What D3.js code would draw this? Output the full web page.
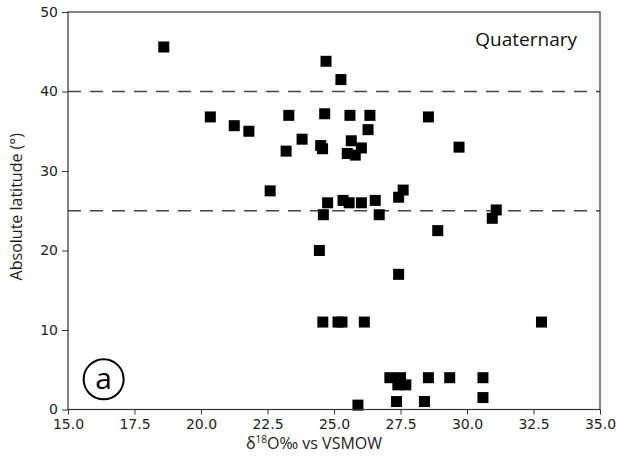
<!DOCTYPE html>
<html>
<head>
<meta charset="utf-8">
<script src="https://cdn.jsdelivr.net/npm/d3@7"></script>
<style>
  body { margin: 0; background: #fff; }
  .tick text { font-family: "DejaVu Sans", sans-serif; font-size: 14px; fill: #222; }
  .tick line { stroke: #333; }
  .domain { stroke: none; }
</style>
</head>
<body>
<div id="chart"></div>
<script>
// d18O values (per mille vs VSMOW)
const d18O = [
  18.6, 20.35, 21.25, 21.8, 22.6, 23.2, 23.3, 23.8, 24.45, 24.5,
  24.57, 24.6, 24.65, 24.7, 24.76, 24.58, 25.15, 25.3, 25.26, 25.34,
  25.57, 25.6, 25.65, 25.5, 25.8, 26.03, 26.03, 26.14, 26.28, 26.35,
  26.55, 26.7, 25.9, 27.43, 27.6, 27.43, 28.55, 29.7, 28.9, 30.95,
  31.1, 32.8, 27.1, 27.5, 27.4, 27.7, 28.55, 29.35, 30.6, 30.6,
  27.35, 28.4
];
// absolute latitude (degrees)
const latitude = [
  45.6, 36.8, 35.7, 35.0, 27.5, 32.5, 37.0, 34.0, 20.0, 33.2,
  32.8, 24.5, 37.2, 43.8, 26.0, 11.0, 11.0, 11.0, 41.5, 26.3,
  26.0, 37.0, 33.8, 32.2, 32.0, 32.9, 26.0, 11.0, 35.2, 37.0,
  26.3, 24.5, 0.55, 17.0, 27.6, 26.7, 36.8, 33.0, 22.5, 24.05,
  25.1, 11.0, 4.0, 4.0, 3.1, 3.1, 4.0, 4.0, 4.0, 1.5,
  1.0, 1.0
];
const xTicks = [15, 17.5, 20, 22.5, 25, 27.5, 30, 32.5, 35];
const yTicks = [0, 10, 20, 30, 40, 50];
const boundaries = [40, 25];

const width = 621, height = 463;
const margin = { left: 68, right: 21, top: 12, bottom: 53.5 };

const svg = d3.select('#chart')
  .append('svg')
  .attr('width', width)
  .attr('height', height);

const x = d3.scaleLinear().domain([15, 35]).range([margin.left, width - margin.right]);
const y = d3.scaleLinear().domain([0, 50]).range([height - margin.bottom, margin.top]);

// latitude boundary lines
svg.selectAll('.bound')
  .data(boundaries)
  .enter()
  .append('line')
  .attr('x1', x(15)).attr('x2', x(35))
  .attr('y1', d => y(d)).attr('y2', d => y(d))
  .attr('stroke', '#444')
  .attr('stroke-width', 1.6)
  .attr('stroke-dasharray', '13,9');

// points
const s = 11;
svg.selectAll('.pt')
  .data(d18O.map((v, i) => [v, latitude[i]]))
  .enter()
  .append('rect')
  .attr('x', d => x(d[0]) - s / 2)
  .attr('y', d => y(d[1]) - s / 2)
  .attr('width', s)
  .attr('height', s)
  .attr('fill', '#000');

// axes
svg.append('g')
  .attr('transform', `translate(0,${y(0)})`)
  .call(d3.axisBottom(x).tickValues(xTicks).tickFormat(d3.format('.1f')).tickSizeOuter(0).tickSize(5).tickPadding(5));

svg.append('g')
  .attr('transform', `translate(${x(15)},0)`)
  .call(d3.axisLeft(y).tickValues(yTicks).tickFormat(d3.format('d')).tickSizeOuter(0).tickSize(6).tickPadding(4));

// frame
svg.append('rect')
  .attr('x', x(15)).attr('y', y(50))
  .attr('width', x(35) - x(15)).attr('height', y(0) - y(50))
  .attr('fill', 'none')
  .attr('stroke', '#333')
  .attr('stroke-width', 1.2);

// labels
const labelFont = '"Open Sans", "Noto Sans", sans-serif';
const xl = svg.append('text')
  .attr('x', 314)
  .attr('y', 449)
  .attr('text-anchor', 'middle')
  .attr('font-family', labelFont)
  .attr('font-size', 16)
  .attr('fill', '#222');
xl.append('tspan').text('δ');
xl.append('tspan').attr('font-size', 10).attr('dy', -6).text('18');
xl.append('tspan').attr('dy', 6).text('O‰ vs VSMOW');

svg.append('text')
  .attr('transform', `translate(22,${(y(0) + y(50)) / 2 - 4}) rotate(-90)`)
  .attr('text-anchor', 'middle')
  .attr('font-family', labelFont)
  .attr('font-size', 16)
  .attr('fill', '#222')
  .text('Absolute latitude (°)');

svg.append('text')
  .attr('x', 577)
  .attr('y', 46)
  .attr('text-anchor', 'end')
  .attr('font-family', labelFont)
  .attr('font-size', 19)
  .attr('fill', '#111')
  .text('Quaternary');

// panel tag
const cx = x(16.34), cy = y(3.8);
svg.append('circle')
  .attr('cx', cx).attr('cy', cy).attr('r', 20)
  .attr('fill', 'none')
  .attr('stroke', '#000')
  .attr('stroke-width', 2);
svg.append('text')
  .attr('x', cx).attr('y', cy + 10)
  .attr('text-anchor', 'middle')
  .attr('font-family', labelFont)
  .attr('font-size', 30)
  .attr('fill', '#000')
  .text('a');
</script>
</body>
</html>
